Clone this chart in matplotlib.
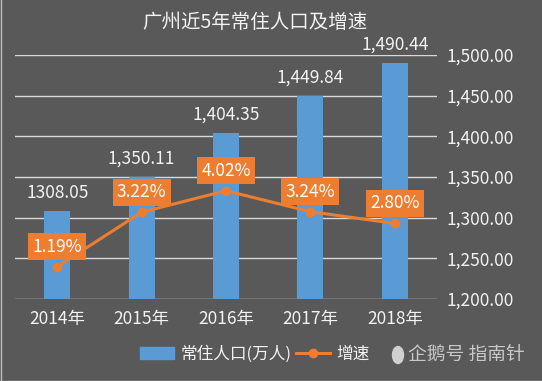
import matplotlib.pyplot as plt
from matplotlib.lines import Line2D
from matplotlib.patches import Patch, Ellipse

plt.rcParams['font.family'] = ['Noto Sans CJK SC', 'DejaVu Sans']

# datos
years = ['2014年', '2015年', '2016年', '2017年', '2018年']
poblacion = [1308.05, 1350.11, 1404.35, 1449.84, 1490.44]
etiquetas_pob = ['1308.05', '1,350.11', '1,404.35', '1,449.84', '1,490.44']
crecimiento = [1.19, 3.22, 4.02, 3.24, 2.80]
etiquetas_crec = ['1.19%', '3.22%', '4.02%', '3.24%', '2.80%']
yticks = [1200, 1250, 1300, 1350, 1400, 1450, 1500]

fondo = '#595959'
azul = '#5B9BD5'
naranja = '#ED7D31'
texto = '#F2F2F2'

W, H = 542, 381
fig = plt.figure(figsize=(W / 100, H / 100), dpi=100, facecolor=fondo)
ax = fig.add_axes([15 / W, (H - 299) / H, 422 / W, 244 / H])
ax.set_facecolor(fondo)

x = list(range(len(years)))
ax.bar(x, poblacion, width=0.31, color=azul, zorder=2)
ax.set_ylim(1200, 1500)
ax.set_xlim(-0.5, 4.5)
ax.grid(axis='y', color='#D9D9D9', linewidth=1, zorder=0)
for s in ax.spines.values():
    s.set_visible(False)

for xi, v, lab in zip(x, poblacion, etiquetas_pob):
    ax.annotate(lab, (xi, v), xytext=(0, 18), textcoords='offset pixels',
                ha='center', va='center', color=texto, fontsize=12.5)

# eje secundario para el crecimiento
ax2 = ax.twinx()
ax2.plot(x, crecimiento, color=naranja, linewidth=2.2, marker='o', markersize=6, zorder=3)
ax2.set_ylim(-0.01, 9.07)
ax2.set_yticks([])
for s in ax2.spines.values():
    s.set_visible(False)

ax.set_yticks(yticks)
ax.set_yticklabels([f'{v:,.2f}' for v in yticks])
ax.yaxis.tick_right()
ax.tick_params(axis='y', length=0, pad=7, labelsize=12.5, labelcolor=texto)
ax.set_xticks(x)
ax.set_xticklabels(years)
ax.tick_params(axis='x', length=0, pad=8, labelsize=12.5, labelcolor=texto)

for xi, v, lab in zip(x, crecimiento, etiquetas_crec):
    ax2.annotate(lab, (xi, v), xytext=(0, 20), textcoords='offset pixels',
                 ha='center', va='center', color='white', fontsize=12.5,
                 bbox=dict(boxstyle='square,pad=0.25', fc=naranja, ec='none'))

fig.text(255 / W, 1 - 23 / H, '广州近5年常住人口及增速', ha='center', va='center',
         color=texto, fontsize=14)

handles = [Patch(color=azul),
           Line2D([0], [0], color=naranja, linewidth=2.2, marker='o', markersize=6)]
fig.legend(handles, ['常住人口(万人)', '增速'], loc='center', bbox_to_anchor=(255 / W, 1 - 354 / H),
           ncol=2, frameon=False, fontsize=12, labelcolor=texto, handlelength=2.0,
           handletextpad=0.4, columnspacing=0.3)

# marca de agua
fig.add_artist(Ellipse((398 / W, 1 - 355 / H), 11 / W, 17 / H, color='#D0D0D0'))
fig.text(408 / W, 1 - 354 / H, '企鹅号 指南针', ha='left', va='center',
         color='#C8C8C8', fontsize=13.5)

fig.add_artist(Line2D([0.5 / W, 0.5 / W], [0, 1], color='#BFBFBF', linewidth=1))
fig.add_artist(Line2D([0, 1], [0.5 / H, 0.5 / H], color='#BFBFBF', linewidth=1))

fig.savefig('out.png', dpi=100, facecolor=fondo)
